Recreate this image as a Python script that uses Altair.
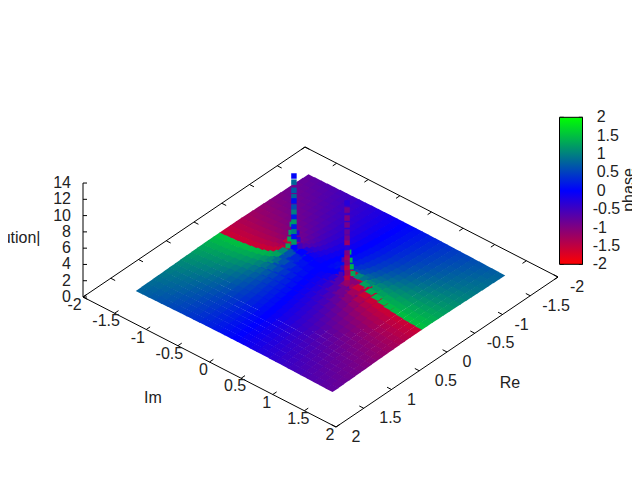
import altair as alt
import pandas as pd

# Grid axes of the surface (Re in columns, Im in rows)
RE_GRID = [round(-1.5 + 0.1 * i, 1) for i in range(31)]
IM_GRID = [round(-1.5 + 0.1 * i, 1) for i in range(31)]

PHASE = [
[-.77,-.80,-.83,-.87,-.91,-.96,-1.00,-1.05,-1.11,-1.17,-1.23,-1.29,-1.36,-1.43,-1.50,-1.57,1.50,1.43,1.36,1.29,1.23,1.17,1.11,1.05,1.00,.96,.91,.87,.83,.80,.77],
[-.73,-.76,-.80,-.84,-.88,-.92,-.97,-1.02,-1.08,-1.14,-1.20,-1.27,-1.34,-1.42,-1.49,-1.57,1.49,1.42,1.34,1.27,1.20,1.14,1.08,1.02,.97,.92,.88,.84,.80,.76,.73],
[-.69,-.72,-.76,-.80,-.84,-.88,-.93,-.98,-1.04,-1.10,-1.17,-1.24,-1.32,-1.40,-1.49,-1.57,1.49,1.40,1.32,1.24,1.17,1.10,1.04,.98,.93,.88,.84,.80,.76,.72,.69],
[-.65,-.68,-.72,-.76,-.80,-.84,-.89,-.94,-1.00,-1.07,-1.14,-1.21,-1.30,-1.38,-1.48,-1.57,1.48,1.38,1.30,1.21,1.14,1.07,1.00,.94,.89,.84,.80,.76,.72,.68,.65],
[-.61,-.64,-.67,-.71,-.75,-.79,-.84,-.90,-.96,-1.02,-1.09,-1.18,-1.27,-1.36,-1.46,-1.57,1.46,1.36,1.27,1.18,1.09,1.02,.96,.90,.84,.79,.75,.71,.67,.64,.61],
[-.56,-.59,-.62,-.66,-.70,-.74,-.79,-.84,-.90,-.97,-1.05,-1.13,-1.23,-1.33,-1.45,-1.57,1.45,1.33,1.23,1.13,1.05,.97,.90,.84,.79,.74,.70,.66,.62,.59,.56],
[-.52,-.54,-.57,-.61,-.64,-.68,-.73,-.78,-.84,-.91,-.99,-1.08,-1.18,-1.30,-1.43,-1.57,1.43,1.30,1.18,1.08,.99,.91,.84,.78,.73,.68,.64,.61,.57,.54,.52],
[-.47,-.49,-.52,-.55,-.58,-.62,-.67,-.72,-.77,-.84,-.92,-1.01,-1.12,-1.25,-1.40,-1.57,1.40,1.25,1.12,1.01,.92,.84,.77,.72,.67,.62,.58,.55,.52,.49,.47],
[-.41,-.44,-.46,-.49,-.52,-.56,-.60,-.64,-.70,-.76,-.83,-.92,-1.03,-1.17,-1.36,-1.57,1.36,1.17,1.03,.92,.83,.76,.70,.64,.60,.56,.52,.49,.46,.44,.41],
[-.36,-.38,-.40,-.43,-.46,-.49,-.52,-.56,-.61,-.67,-.73,-.81,-.91,-1.06,-1.27,-1.57,1.27,1.06,.91,.81,.73,.67,.61,.56,.52,.49,.46,.43,.40,.38,.36],
[-.30,-.32,-.34,-.36,-.39,-.41,-.44,-.48,-.52,-.56,-.62,-.68,-.76,-.87,-1.07,-1.57,1.07,.87,.76,.68,.62,.56,.52,.48,.44,.41,.39,.36,.34,.32,.30],
[-.24,-.26,-.27,-.29,-.31,-.33,-.36,-.39,-.42,-.45,-.49,-.53,-.58,-.62,-.63,0,.63,.62,.58,.53,.49,.45,.42,.39,.36,.33,.31,.29,.27,.26,.24],
[-.18,-.19,-.21,-.22,-.24,-.25,-.27,-.29,-.32,-.34,-.36,-.39,-.40,-.38,-.28,0,.28,.38,.40,.39,.36,.34,.32,.29,.27,.25,.24,.22,.21,.19,.18],
[-.12,-.13,-.14,-.15,-.16,-.17,-.18,-.20,-.21,-.23,-.24,-.25,-.24,-.21,-.13,0,.13,.21,.24,.25,.24,.23,.21,.20,.18,.17,.16,.15,.14,.13,.12],
[-.06,-.07,-.07,-.07,-.08,-.08,-.09,-.10,-.10,-.11,-.12,-.12,-.11,-.10,-.06,0,.06,.10,.11,.12,.12,.11,.10,.10,.09,.08,.08,.07,.07,.07,.06],
[0,0,0,0,0,0,0,0,0,0,0,0,0,0,0,0,0,0,0,0,0,0,0,0,0,0,0,0,0,0,0],
[.06,.07,.07,.07,.08,.08,.09,.10,.10,.11,.12,.12,.11,.10,.06,0,-.06,-.10,-.11,-.12,-.12,-.11,-.10,-.10,-.09,-.08,-.08,-.07,-.07,-.07,-.06],
[.12,.13,.14,.15,.16,.17,.18,.20,.21,.23,.24,.25,.24,.21,.13,0,-.13,-.21,-.24,-.25,-.24,-.23,-.21,-.20,-.18,-.17,-.16,-.15,-.14,-.13,-.12],
[.18,.19,.21,.22,.24,.25,.27,.29,.32,.34,.36,.39,.40,.38,.28,0,-.28,-.38,-.40,-.39,-.36,-.34,-.32,-.29,-.27,-.25,-.24,-.22,-.21,-.19,-.18],
[.24,.26,.27,.29,.31,.33,.36,.39,.42,.45,.49,.53,.58,.62,.63,0,-.63,-.62,-.58,-.53,-.49,-.45,-.42,-.39,-.36,-.33,-.31,-.29,-.27,-.26,-.24],
[.30,.32,.34,.36,.39,.41,.44,.48,.52,.56,.62,.68,.76,.87,1.07,-1.57,-1.07,-.87,-.76,-.68,-.62,-.56,-.52,-.48,-.44,-.41,-.39,-.36,-.34,-.32,-.30],
[.36,.38,.40,.43,.46,.49,.52,.56,.61,.67,.73,.81,.91,1.06,1.27,-1.57,-1.27,-1.06,-.91,-.81,-.73,-.67,-.61,-.56,-.52,-.49,-.46,-.43,-.40,-.38,-.36],
[.41,.44,.46,.49,.52,.56,.60,.64,.70,.76,.83,.92,1.03,1.17,1.36,-1.57,-1.36,-1.17,-1.03,-.92,-.83,-.76,-.70,-.64,-.60,-.56,-.52,-.49,-.46,-.44,-.41],
[.47,.49,.52,.55,.58,.62,.67,.72,.77,.84,.92,1.01,1.12,1.25,1.40,-1.57,-1.40,-1.25,-1.12,-1.01,-.92,-.84,-.77,-.72,-.67,-.62,-.58,-.55,-.52,-.49,-.47],
[.52,.54,.57,.61,.64,.68,.73,.78,.84,.91,.99,1.08,1.18,1.30,1.43,-1.57,-1.43,-1.30,-1.18,-1.08,-.99,-.91,-.84,-.78,-.73,-.68,-.64,-.61,-.57,-.54,-.52],
[.56,.59,.62,.66,.70,.74,.79,.84,.90,.97,1.05,1.13,1.23,1.33,1.45,-1.57,-1.45,-1.33,-1.23,-1.13,-1.05,-.97,-.90,-.84,-.79,-.74,-.70,-.66,-.62,-.59,-.56],
[.61,.64,.67,.71,.75,.79,.84,.90,.96,1.02,1.09,1.18,1.27,1.36,1.46,-1.57,-1.46,-1.36,-1.27,-1.18,-1.09,-1.02,-.96,-.90,-.84,-.79,-.75,-.71,-.67,-.64,-.61],
[.65,.68,.72,.76,.80,.84,.89,.94,1.00,1.07,1.14,1.21,1.30,1.38,1.48,-1.57,-1.48,-1.38,-1.30,-1.21,-1.14,-1.07,-1.00,-.94,-.89,-.84,-.80,-.76,-.72,-.68,-.65],
[.69,.72,.76,.80,.84,.88,.93,.98,1.04,1.10,1.17,1.24,1.32,1.40,1.49,-1.57,-1.49,-1.40,-1.32,-1.24,-1.17,-1.10,-1.04,-.98,-.93,-.88,-.84,-.80,-.76,-.72,-.69],
[.73,.76,.80,.84,.88,.92,.97,1.02,1.08,1.14,1.20,1.27,1.34,1.42,1.49,-1.57,-1.49,-1.42,-1.34,-1.27,-1.20,-1.14,-1.08,-1.02,-.97,-.92,-.88,-.84,-.80,-.76,-.73],
[.77,.80,.83,.87,.91,.96,1.00,1.05,1.11,1.17,1.23,1.29,1.36,1.43,1.50,-1.57,-1.50,-1.43,-1.36,-1.29,-1.23,-1.17,-1.11,-1.05,-1.00,-.96,-.91,-.87,-.83,-.80,-.77],
]

HEIGHT = [
[.47,.49,.51,.52,.54,.56,.58,.60,.62,.63,.65,.67,.68,.69,.69,.69,.69,.69,.68,.67,.65,.63,.62,.60,.58,.56,.54,.52,.51,.49,.47],
[.49,.50,.52,.54,.56,.59,.61,.63,.65,.67,.69,.71,.73,.74,.75,.75,.75,.74,.73,.71,.69,.67,.65,.63,.61,.59,.56,.54,.52,.50,.49],
[.50,.52,.54,.57,.59,.61,.64,.67,.69,.72,.74,.77,.78,.80,.81,.81,.81,.80,.78,.77,.74,.72,.69,.67,.64,.61,.59,.57,.54,.52,.50],
[.52,.54,.56,.59,.62,.64,.67,.70,.74,.77,.80,.83,.85,.87,.88,.89,.88,.87,.85,.83,.80,.77,.74,.70,.67,.64,.62,.59,.56,.54,.52],
[.53,.56,.58,.61,.64,.67,.71,.74,.78,.82,.86,.90,.93,.96,.98,.98,.98,.96,.93,.90,.86,.82,.78,.74,.71,.67,.64,.61,.58,.56,.53],
[.55,.58,.60,.64,.67,.71,.75,.79,.83,.88,.93,.98,1.03,1.07,1.09,1.10,1.09,1.07,1.03,.98,.93,.88,.83,.79,.75,.71,.67,.64,.60,.58,.55],
[.56,.59,.62,.66,.70,.74,.78,.83,.89,.95,1.01,1.08,1.14,1.20,1.24,1.26,1.24,1.20,1.14,1.08,1.01,.95,.89,.83,.78,.74,.70,.66,.62,.59,.56],
[.58,.61,.64,.68,.72,.77,.82,.88,.94,1.02,1.10,1.19,1.28,1.37,1.44,1.47,1.44,1.37,1.28,1.19,1.10,1.02,.94,.88,.82,.77,.72,.68,.64,.61,.58],
[.59,.63,.66,.70,.75,.80,.86,.93,1.00,1.09,1.19,1.31,1.45,1.60,1.73,1.78,1.73,1.60,1.45,1.31,1.19,1.09,1.00,.93,.86,.80,.75,.70,.66,.63,.59],
[.60,.64,.68,.72,.77,.83,.90,.97,1.06,1.16,1.29,1.44,1.64,1.89,2.18,2.33,2.18,1.89,1.64,1.44,1.29,1.16,1.06,.97,.90,.83,.77,.72,.68,.64,.60],
[.62,.65,.69,.74,.80,.86,.93,1.01,1.11,1.23,1.37,1.56,1.82,2.22,2.90,3.68,2.90,2.22,1.82,1.56,1.37,1.23,1.11,1.01,.93,.86,.80,.74,.69,.65,.62],
[.62,.66,.71,.76,.81,.88,.96,1.04,1.15,1.28,1.44,1.65,1.95,2.43,3.00,3.30,3.00,2.43,1.95,1.65,1.44,1.28,1.15,1.04,.96,.88,.81,.76,.71,.66,.62],
[.63,.67,.72,.77,.83,.90,.98,1.07,1.18,1.32,1.49,1.71,1.99,2.40,2.80,3.10,2.80,2.40,1.99,1.71,1.49,1.32,1.18,1.07,.98,.90,.83,.77,.72,.67,.63],
[.64,.68,.73,.78,.84,.91,.99,1.09,1.21,1.35,1.52,1.72,1.98,2.28,2.57,2.71,2.57,2.28,1.98,1.72,1.52,1.35,1.21,1.09,.99,.91,.84,.78,.73,.68,.64],
[.64,.68,.73,.79,.85,.92,1.00,1.10,1.22,1.36,1.53,1.73,1.95,2.18,2.38,2.45,2.38,2.18,1.95,1.73,1.53,1.36,1.22,1.10,1.00,.92,.85,.79,.73,.68,.64],
[.64,.68,.73,.79,.85,.92,1.01,1.11,1.23,1.37,1.53,1.73,1.94,2.15,2.32,2.38,2.32,2.15,1.94,1.73,1.53,1.37,1.23,1.11,1.01,.92,.85,.79,.73,.68,.64],
[.64,.68,.73,.79,.85,.92,1.00,1.10,1.22,1.36,1.53,1.73,1.95,2.18,2.38,2.45,2.38,2.18,1.95,1.73,1.53,1.36,1.22,1.10,1.00,.92,.85,.79,.73,.68,.64],
[.64,.68,.73,.78,.84,.91,.99,1.09,1.21,1.35,1.52,1.72,1.98,2.28,2.57,2.71,2.57,2.28,1.98,1.72,1.52,1.35,1.21,1.09,.99,.91,.84,.78,.73,.68,.64],
[.63,.67,.72,.77,.83,.90,.98,1.07,1.18,1.32,1.49,1.71,1.99,2.40,2.80,3.10,2.80,2.40,1.99,1.71,1.49,1.32,1.18,1.07,.98,.90,.83,.77,.72,.67,.63],
[.62,.66,.71,.76,.81,.88,.96,1.04,1.15,1.28,1.44,1.65,1.95,2.43,3.00,3.30,3.00,2.43,1.95,1.65,1.44,1.28,1.15,1.04,.96,.88,.81,.76,.71,.66,.62],
[.62,.65,.69,.74,.80,.86,.93,1.01,1.11,1.23,1.37,1.56,1.82,2.22,2.90,3.68,2.90,2.22,1.82,1.56,1.37,1.23,1.11,1.01,.93,.86,.80,.74,.69,.65,.62],
[.60,.64,.68,.72,.77,.83,.90,.97,1.06,1.16,1.29,1.44,1.64,1.89,2.18,2.33,2.18,1.89,1.64,1.44,1.29,1.16,1.06,.97,.90,.83,.77,.72,.68,.64,.60],
[.59,.63,.66,.70,.75,.80,.86,.93,1.00,1.09,1.19,1.31,1.45,1.60,1.73,1.78,1.73,1.60,1.45,1.31,1.19,1.09,1.00,.93,.86,.80,.75,.70,.66,.63,.59],
[.58,.61,.64,.68,.72,.77,.82,.88,.94,1.02,1.10,1.19,1.28,1.37,1.44,1.47,1.44,1.37,1.28,1.19,1.10,1.02,.94,.88,.82,.77,.72,.68,.64,.61,.58],
[.56,.59,.62,.66,.70,.74,.78,.83,.89,.95,1.01,1.08,1.14,1.20,1.24,1.26,1.24,1.20,1.14,1.08,1.01,.95,.89,.83,.78,.74,.70,.66,.62,.59,.56],
[.55,.58,.60,.64,.67,.71,.75,.79,.83,.88,.93,.98,1.03,1.07,1.09,1.10,1.09,1.07,1.03,.98,.93,.88,.83,.79,.75,.71,.67,.64,.60,.58,.55],
[.53,.56,.58,.61,.64,.67,.71,.74,.78,.82,.86,.90,.93,.96,.98,.98,.98,.96,.93,.90,.86,.82,.78,.74,.71,.67,.64,.61,.58,.56,.53],
[.52,.54,.56,.59,.62,.64,.67,.70,.74,.77,.80,.83,.85,.87,.88,.89,.88,.87,.85,.83,.80,.77,.74,.70,.67,.64,.62,.59,.56,.54,.52],
[.50,.52,.54,.57,.59,.61,.64,.67,.69,.72,.74,.77,.78,.80,.81,.81,.81,.80,.78,.77,.74,.72,.69,.67,.64,.61,.59,.57,.54,.52,.50],
[.49,.50,.52,.54,.56,.59,.61,.63,.65,.67,.69,.71,.73,.74,.75,.75,.75,.74,.73,.71,.69,.67,.65,.63,.61,.59,.56,.54,.52,.50,.49],
[.47,.49,.51,.52,.54,.56,.58,.60,.62,.63,.65,.67,.68,.69,.69,.69,.69,.69,.68,.67,.65,.63,.62,.60,.58,.56,.54,.52,.51,.49,.47],
]

# Side samples on the funnels at the foot of the two spikes
WALL_RE = [.05,.03,.02,.01,-.05,-.03,-.02, .05,.03,.02,-.05,-.03,-.02,-.01]
WALL_IM = [-.47,-.46,-.45,-.44,-.37,-.38,-.39, .37,.38,.39,.47,.46,.45,.44]
WALL_Z = [3.4,4.2,5.0,6.0,3.3,4.2,5.0, 3.3,4.0,5.0,3.3,4.2,5.0,6.0]
WALL_PHASE = [1.3,1.3,1.2,1.2,-.5,-.4,-.3, -.6,-.6,-.7,1.3,1.4,1.4,1.4]

# Isolated samples climbing the two spikes
SPIKE_RE = [0.0] * 28
SPIKE_IM = [-.42] * 13 + [.42] * 15
SPIKE_Z = [11.96,11.2,10.2,9.4,8.9,8.15,7.5,6.9,6.3,5.7,5.1,4.5,3.85,
           12.0,11.13,10.15,9.3,8.43,7.7,7.08,6.47,5.85,5.24,4.62,4.0,3.4,2.78,2.17]
SPIKE_PHASE = [.05,.8,.7,.8,.1,.6,1.0,.2,1.2,.2,1.0,.1,1.2,
               -.3,-.9,-1.0,-.9,-.8,-.9,-1.2,-.3,-1.0,-1.3,-1.1,-1.5,-1.2,-1.5,-1.2]

RE_TICKS = [-2, -1.5, -1, -0.5, 0, 0.5, 1, 1.5, 2]
IM_TICKS = [-2, -1.5, -1, -0.5, 0, 0.5, 1, 1.5, 2]
Z_TICKS = [0, 2, 4, 6, 8, 10, 12, 14]
CB_TICKS = [-2, -1.5, -1, -0.5, 0, 0.5, 1, 1.5, 2]
FONT = "Liberation Sans"
FS = 16
INK = "#222222"

PX = "320.5 + 63.25*datum.im - 55.5*datum.re"
PY = "287 + 32.5*datum.im + 37.5*datum.re - 8.14*datum.z"
PX2 = "320.5 + 63.25*datum.im2 - 55.5*datum.re2"
PY2 = "287 + 32.5*datum.im2 + 37.5*datum.re2 - 8.14*datum.z2"

X_SCALE = alt.Scale(domain=[8, 632], nice=False, zero=False)
Y_SCALE = alt.Scale(domain=[464, 8], nice=False, zero=False)
COLOR_SCALE = alt.Scale(domain=[-2, 0, 2], range=["#ff0000", "#0000ff", "#00ff00"],
                        interpolate="rgb", clamp=True)
LEGEND = alt.Legend(
    orient="none", legendX=551.5, legendY=109.3, direction="vertical", title=None,
    labelOpacity=0, gradientLength=147, gradientThickness=23,
    gradientStrokeColor="#000000", gradientStrokeWidth=1,
)
X = alt.X("px:Q", scale=X_SCALE, axis=None)
Y = alt.Y("py:Q", scale=Y_SCALE, axis=None)
COLOR = alt.Color("phase:Q", scale=COLOR_SCALE, legend=LEGEND)

grid = pd.DataFrame([
    {"re": r, "im": i, "z": HEIGHT[a][b], "phase": PHASE[a][b]}
    for b, r in enumerate(RE_GRID) for a, i in enumerate(IM_GRID)
])
spike = pd.DataFrame({"re": SPIKE_RE, "im": SPIKE_IM, "z": SPIKE_Z, "phase": SPIKE_PHASE})
wall = pd.DataFrame({"re": WALL_RE, "im": WALL_IM, "z": WALL_Z, "phase": WALL_PHASE})

segs = []
for a, b in [((2, -2), (2, 2)), ((2, 2), (-2, 2)), ((2, -2), (-2, -2)), ((-2, -2), (-2, 2))]:
    segs.append({"re": a[0], "im": a[1], "z": 0, "re2": b[0], "im2": b[1], "z2": 0})
segs.append({"re": 2, "im": -2, "z": 0, "re2": 2, "im2": -2, "z2": 14})
for v in IM_TICKS:
    segs.append({"re": 2, "im": v, "z": 0, "re2": 1.93, "im2": v, "z2": 0})
    segs.append({"re": -2, "im": v, "z": 0, "re2": -1.93, "im2": v, "z2": 0})
for v in RE_TICKS:
    segs.append({"re": v, "im": 2, "z": 0, "re2": v, "im2": 1.93, "z2": 0})
    segs.append({"re": v, "im": -2, "z": 0, "re2": v, "im2": -1.93, "z2": 0})
segs = pd.DataFrame(segs)

backdrop = alt.Chart(grid).transform_filter("datum.z > 1").transform_calculate(px=PX, py=PY).mark_point(
    shape="M-15,0.6L0.9,9L15,-0.6L-0.9,-9Z",
    filled=True, size=4, opacity=1, strokeWidth=0,
).encode(x=X, y=Y, color=COLOR)

surface = alt.Chart(grid).transform_calculate(px=PX, py=PY).mark_point(
    shape="M-6.6,0.28L0.41,3.9L6.6,-0.28L-0.41,-3.9Z",
    filled=True, size=4, opacity=1, strokeWidth=0,
).encode(x=X, y=Y, color=COLOR)

walls = alt.Chart(wall).transform_calculate(px=PX, py=PY).mark_square(
    size=25, opacity=1, filled=True, strokeWidth=0,
).encode(x=X, y=Y, color=COLOR)

spikes = alt.Chart(spike).transform_calculate(px=PX, py=PY).mark_square(
    size=30, opacity=1, filled=True, strokeWidth=0,
).encode(x=X, y=Y, color=COLOR)

lines = alt.Chart(segs).transform_calculate(px=PX, py=PY, px2=PX2, py2=PY2).mark_rule(
    color="#000000", strokeWidth=1,
).encode(x=X, y=Y, x2="px2:Q", y2="py2:Q")

im_labels = alt.Chart(pd.DataFrame({"v": IM_TICKS})).transform_calculate(
    label="'' + datum.v",
    px="320.5 + 63.25*datum.v - 111 + (datum.v < 0 ? -8.5 : -6)",
    py="287 + 32.5*datum.v + 75 + 8",
).mark_text(font=FONT, fontSize=FS, color=INK, align="center", baseline="middle").encode(
    x=X, y=Y, text="label:N")

re_labels = alt.Chart(pd.DataFrame({"v": RE_TICKS})).transform_calculate(
    label="'' + datum.v",
    px="320.5 + 126.5 - 55.5*datum.v + (datum.v < 0 ? 12 : 15.5)",
    py="287 + 65 + 37.5*datum.v + 10",
).mark_text(font=FONT, fontSize=FS, color=INK, align="left", baseline="middle").encode(
    x=X, y=Y, text="label:N")

z_ticks = alt.Chart(pd.DataFrame({"v": Z_TICKS})).transform_calculate(
    px="83", px2="87", py="297 - 8.14*datum.v",
).mark_rule(color="#000000", strokeWidth=1).encode(x=X, x2="px2:Q", y=Y)

z_labels = alt.Chart(pd.DataFrame({"v": Z_TICKS})).transform_calculate(
    label="'' + datum.v", px="71", py="297 - 8.14*datum.v",
).mark_text(font=FONT, fontSize=FS, color=INK, align="right", baseline="middle").encode(
    x=X, y=Y, text="label:N")

cb = pd.DataFrame({"v": CB_TICKS})
cb_left = alt.Chart(cb).transform_calculate(
    px="559.8", px2="563.8", py="264.3 - (datum.v + 2) / 4 * 147",
).mark_rule(color="#000000", strokeWidth=1).encode(x=X, x2="px2:Q", y=Y)
cb_right = alt.Chart(cb).transform_calculate(
    px="578.8", px2="582.8", py="264.3 - (datum.v + 2) / 4 * 147",
).mark_rule(color="#000000", strokeWidth=1).encode(x=X, x2="px2:Q", y=Y)
cb_labels = alt.Chart(cb).transform_calculate(
    label="'' + datum.v",
    px="datum.v < 0 ? 592.7 : 596.7", py="264.3 - (datum.v + 2) / 4 * 147",
).mark_text(font=FONT, fontSize=FS, color=INK, align="left", baseline="middle").encode(
    x=X, y=Y, text="label:N")

titles = pd.DataFrame({
    "label": ["Im", "Re", "|solution|"],
    "px": [153, 510, 40.5],
    "py": [398, 383, 238],
})
title_c = alt.Chart(titles.iloc[:2]).mark_text(
    font=FONT, fontSize=FS, color=INK, align="center", baseline="middle"
).encode(x=X, y=Y, text="label:N")
title_z = alt.Chart(titles.iloc[2:]).mark_text(
    font=FONT, fontSize=FS, color=INK, align="right", baseline="middle"
).encode(x=X, y=Y, text="label:N")
title_cb = alt.Chart(pd.DataFrame({"label": ["phase"], "px": [634], "py": [190]})).mark_text(
    font=FONT, fontSize=FS, color=INK, angle=270, align="center", baseline="alphabetic"
).encode(x=X, y=Y, text="label:N")

chart = alt.layer(
    lines, backdrop, surface, walls, spikes, z_ticks, im_labels, re_labels, z_labels,
    cb_left, cb_right, cb_labels, title_c, title_z, title_cb,
).properties(width=624, height=456, padding=0, autosize=alt.AutoSizeParams(type="none")).configure_view(stroke=None)

chart.save("out.html", embed_options={"renderer": "svg", "actions": False})
